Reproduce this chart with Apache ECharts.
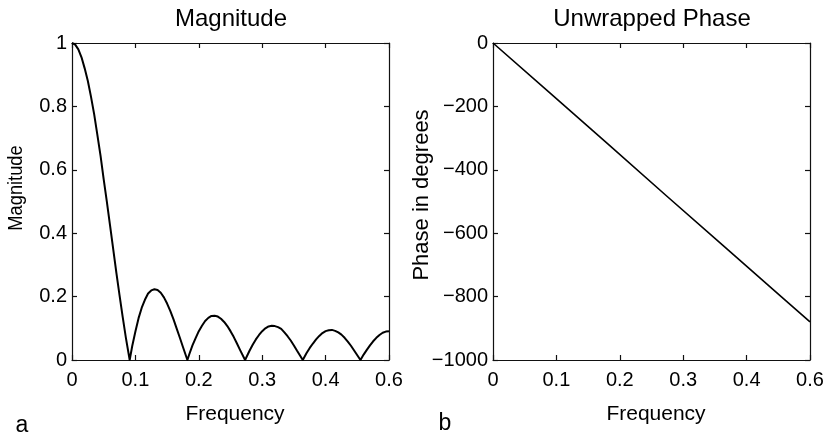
<!DOCTYPE html>
<html>
<head>
<meta charset="utf-8">
<script src="https://cdn.jsdelivr.net/npm/echarts@6/dist/echarts.min.js"></script>
<style>
html,body{margin:0;padding:0;background:#fff;}
#chart{width:829px;height:438px;}
</style>
</head>
<body>
<div id="chart"></div>
<script>
// ---- data ----
const magFreq = [0,0.005,0.01,0.015,0.02,0.025,0.03,0.035,0.04,0.045,0.05,0.055,0.06,0.065,0.07,0.075,0.08,0.085,0.091,
  0.095,0.10,0.105,0.11,0.115,0.12,0.125,0.13,0.135,0.14,0.145,0.15,0.155,0.16,0.165,0.17,0.175,0.182,
  0.185,0.19,0.195,0.20,0.205,0.21,0.215,0.22,0.225,0.23,0.235,0.24,0.245,0.25,0.255,0.26,0.265,0.273,
  0.28,0.285,0.29,0.295,0.30,0.305,0.31,0.315,0.32,0.325,0.33,0.335,0.34,0.345,0.35,0.355,0.364,
  0.37,0.375,0.38,0.385,0.39,0.395,0.40,0.405,0.41,0.415,0.42,0.425,0.43,0.435,0.44,0.445,0.455,
  0.46,0.465,0.47,0.475,0.48,0.485,0.49,0.495,0.50];
const magnitude = [1.0,0.995,0.98,0.955,0.92,0.88,0.83,0.775,0.71,0.645,0.57,0.499,0.425,0.35,0.275,0.204,0.135,0.07,0,
  0.044,0.09,0.132,0.165,0.19,0.21,0.2195,0.223,0.2206,0.212,0.1975,0.178,0.155,0.129,0.1,0.071,0.041,0,
  0.018,0.046,0.069,0.091,0.108,0.123,0.133,0.139,0.1395,0.137,0.13,0.12,0.107,0.091,0.073,0.053,0.032,0,
  0.029,0.048,0.065,0.079,0.091,0.1,0.106,0.108,0.107,0.1036,0.098,0.087,0.075,0.0615,0.046,0.029,0,
  0.022,0.038,0.052,0.065,0.076,0.085,0.091,0.094,0.095,0.092,0.087,0.08,0.07,0.058,0.045,0.03,0,
  0.017,0.032,0.046,0.059,0.07,0.079,0.086,0.0896,0.091];
const phaseFreq = [0,0.091,0.182,0.273,0.364,0.455,0.5];
const phase = [0,-160,-320,-481,-641,-801,-880];

const xTickLabels = ['0','0.1','0.2','0.3','0.4','0.6'];
const magTickLabels = ['0','0.2','0.4','0.6','0.8','1'];
const phaseTickLabels = ['\u22121000','\u2212800','\u2212600','\u2212400','\u2212200','0'];

const titles = ['Magnitude','Unwrapped Phase'];
const xNames = ['Frequency','Frequency'];
const yNames = ['Magnitude','Phase in degrees'];
const panelLetters = ['a','b'];

// ---- chart ----
const FONT = '"Liberation Sans", Arial, Helvetica, sans-serif';
const chart = echarts.init(document.getElementById('chart'), null, {renderer:'canvas'});

const grids = [
  {left:72, top:43, width:317, height:317},
  {left:493, top:43, width:317, height:317}
];
const lineStyle = {color:'#111', width:1.2};

function xAx(g, pos, labels){
  return {
    type:'value', gridIndex:g, position:pos, min:0, max:0.5, interval:0.1,
    axisLine:{show:true, onZero:false, lineStyle:lineStyle},
    axisTick:{show:true, inside:true, length:5, lineStyle:lineStyle},
    splitLine:{show:false},
    axisLabel:{show:labels, margin:10, color:'#000', fontSize:20, fontFamily:FONT,
      showMinLabel:true, showMaxLabel:true,
      formatter:function(v){return xTickLabels[Math.round(v*10)];}}
  };
}
function yAx(g, pos, labels, min, max, interval, tl){
  return {
    type:'value', gridIndex:g, position:pos, min:min, max:max, interval:interval,
    axisLine:{show:true, onZero:false, lineStyle:lineStyle},
    axisTick:{show:true, inside:true, length:5, lineStyle:lineStyle},
    splitLine:{show:false},
    axisLabel:{show:labels, margin:5, color:'#000', fontSize:20, fontFamily:FONT,
      showMinLabel:true, showMaxLabel:true,
      formatter:function(v){return tl[Math.round((v-min)/interval)];}}
  };
}

function txt(text, x, y, size, rot, sx){
  return {type:'text', x:x, y:y, rotation:rot||0, scaleX:sx||1, silent:true,
    style:{text:text, fill:'#000', font:size+'px '+FONT, textAlign:'center', textVerticalAlign:'middle'}};
}

const option = {
  animation:false,
  backgroundColor:'#fff',
  grid:grids,
  xAxis:[xAx(0,'bottom',true), xAx(0,'top',false), xAx(1,'bottom',true), xAx(1,'top',false)],
  yAxis:[yAx(0,'left',true,0,1,0.2,magTickLabels), yAx(0,'right',false,0,1,0.2,magTickLabels),
         yAx(1,'left',true,-1000,0,200,phaseTickLabels), yAx(1,'right',false,-1000,0,200,phaseTickLabels)],
  series:[
    {type:'line', xAxisIndex:0, yAxisIndex:0, showSymbol:false, symbol:'none',
     lineStyle:{color:'#000', width:2, join:'round'}, data:magFreq.map((f,i)=>[f,magnitude[i]])},
    {type:'line', xAxisIndex:2, yAxisIndex:2, showSymbol:false, symbol:'none',
     lineStyle:{color:'#000', width:1.6}, data:phaseFreq.map((f,i)=>[f,phase[i]])}
  ],
  graphic:[
    txt(titles[0], 231, 19, 24),
    txt(titles[1], 652, 19, 24),
    txt(xNames[0], 235, 414, 21),
    txt(xNames[1], 656, 414, 21),
    txt(yNames[0], 16, 188, 21, Math.PI/2, 0.87),
    txt(yNames[1], 422, 195, 22, Math.PI/2),
    txt(panelLetters[0], 22, 426, 23),
    txt(panelLetters[1], 445, 424, 23)
  ]
};
chart.setOption(option);
</script>
</body>
</html>
